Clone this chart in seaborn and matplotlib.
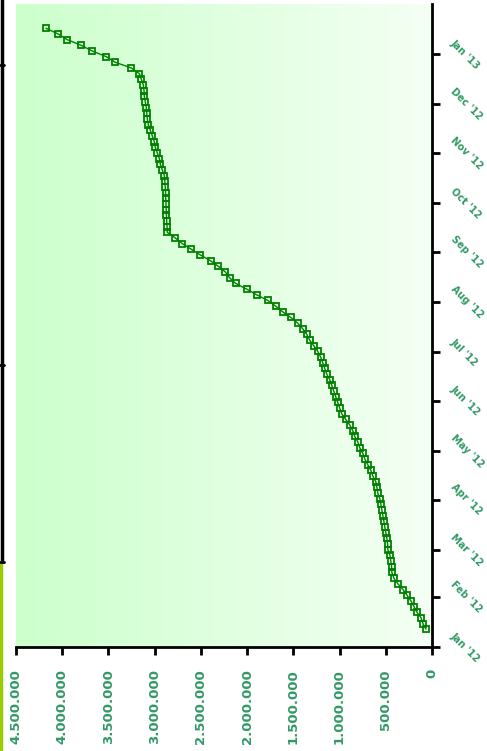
import numpy as np
import pandas as pd
import matplotlib
matplotlib.use("Agg")
import matplotlib.pyplot as plt
from matplotlib.lines import Line2D
import seaborn as sns

# half-weekly cumulative totals
dates = pd.date_range("2012-01-12", periods=107, freq="84h")
values = [
    65000, 98000, 119000, 163000, 195000, 228000, 271000, 314000, 369000, 412000,
    434000, 437000, 445000, 455000, 477000, 480000, 488000, 499000, 510000, 520000,
    531000, 542000, 553000, 564000, 586000, 596000, 607000, 640000, 661000, 694000,
    726000, 748000, 781000, 802000, 835000, 857000, 889000, 933000, 976000, 998000,
    1019000, 1041000, 1063000, 1084000, 1106000, 1139000, 1160000, 1182000, 1204000, 1236000,
    1279000, 1323000, 1355000, 1399000, 1453000, 1529000, 1616000, 1692000, 1778000, 1898000,
    2006000, 2125000, 2190000, 2234000, 2310000, 2396000, 2505000, 2602000, 2700000, 2776000,
    2863000, 2866000, 2870000, 2872000, 2875000, 2877000, 2880000, 2882000, 2885000, 2890000,
    2895000, 2917000, 2938000, 2949000, 2971000, 2993000, 3004000, 3025000, 3047000, 3069000,
    3079000, 3085000, 3090000, 3101000, 3112000, 3115000, 3123000, 3144000, 3166000, 3253000,
    3426000, 3524000, 3676000, 3795000, 3947000, 4044000, 4175000,
]
value_ticks = [0, 500000, 1000000, 1500000, 2000000, 2500000, 3000000, 3500000, 4000000, 4500000]
month_ticks = pd.date_range("2012-01-01", periods=13, freq="MS")

df = pd.DataFrame({"date": dates, "value": values})

sns.set_style("white")
label_color = "#339966"

fig = plt.figure(figsize=(4.87, 7.51), dpi=100)
ax = fig.add_axes([16 / 487, 104 / 751, 416 / 487, 643 / 751])

# green gradient background
grad = np.linspace(0, 1, 256).reshape(1, -1)
cmap = matplotlib.colors.LinearSegmentedColormap.from_list("bg", ["#ccffcc", "#f4fff4"])
ax.imshow(grad, extent=[0, 1, 0, 1], transform=ax.transAxes, aspect="auto",
          cmap=cmap, zorder=0)

sns.lineplot(data=df, x="value", y="date", orient="y", color="#008000", lw=1,
             marker="s", markersize=4, markerfacecolor="none",
             markeredgecolor="#008000", markeredgewidth=1.3, ax=ax, zorder=3)

ax.set_xlim(4500000, 0)
ax.set_ylim(pd.Timestamp("2012-01-01"), pd.Timestamp("2013-02-01"))
ax.set_xlabel("")
ax.set_ylabel("")

ax.set_xticks(value_ticks)
ax.set_xticklabels([f"{v:,.0f}".replace(",", ".") for v in value_ticks],
                   rotation=90, va="top", ha="center", color=label_color,
                   fontsize=9.5, fontweight="bold")

ax.yaxis.tick_right()
ax.set_yticks(month_ticks)
ax.set_yticklabels([d.strftime("%b '%y") for d in month_ticks], rotation=-45,
                   ha="left", va="center", color=label_color,
                   fontsize=7, fontweight="bold")

for side in ["top", "left"]:
    ax.spines[side].set_visible(False)
for side in ["bottom", "right"]:
    ax.spines[side].set_color("black")
    ax.spines[side].set_linewidth(2)
ax.tick_params(axis="x", direction="out", length=6, width=2, color="black", pad=10, bottom=True)
ax.tick_params(axis="y", direction="out", length=6, width=2, color="black", pad=6, right=True, left=False)
ax.grid(False)

# outer frame remnants at the left edge
fig.add_artist(Line2D([2 / 487, 2 / 487], [1, 189 / 751], color="black", lw=2.5))
fig.add_artist(Line2D([1 / 487, 1 / 487], [189 / 751, 0], color="#99cc00", lw=2.5))
for yy in [65, 365, 562]:
    fig.add_artist(Line2D([0, 4 / 487], [1 - yy / 751, 1 - yy / 751], color="black", lw=2))

fig.savefig("out.png", dpi=100)
plt.close(fig)
